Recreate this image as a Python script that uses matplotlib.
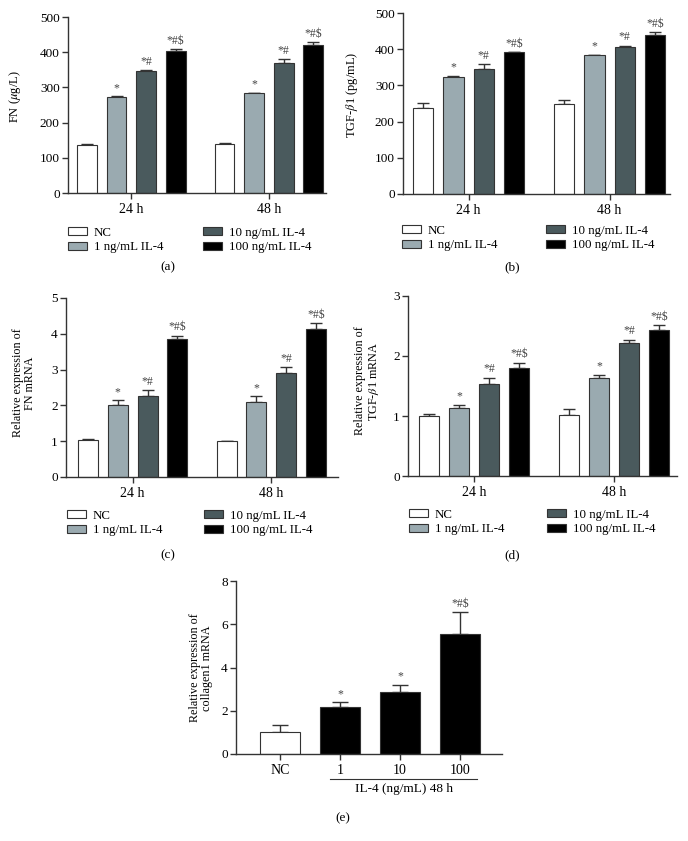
import numpy as np
import matplotlib.pyplot as plt
from matplotlib.patches import Patch

plt.rcParams['font.family'] = ['Liberation Serif', 'DejaVu Serif']
plt.rcParams['mathtext.fontset'] = 'stix'

''' Data read off the figure '''
times = ['24 h', '48 h']
conds = ['NC', '1 ng/mL IL-4', '10 ng/mL IL-4', '100 ng/mL IL-4']
sig_marks = ['', '*', '*#', '*#$']

# (a) FN protein, rows = time point, cols = condition
fn_prot_mean = [[137, 273, 346, 404], [140, 283, 370, 421]]
fn_prot_err = [[2, 2, 3, 4], [2, 2, 10, 9]]
# (b) TGF-b1 protein
tgf_prot_mean = [[237, 322, 345, 391], [248, 383, 405, 439]]
tgf_prot_err = [[15, 5, 13, 2], [13, 2, 5, 8]]
# (c) FN mRNA
fn_mrna_mean = [[1.02, 2.00, 2.27, 3.85], [1.00, 2.09, 2.91, 4.13]]
fn_mrna_err = [[0.03, 0.14, 0.15, 0.10], [0.01, 0.17, 0.15, 0.18]]
# (d) TGF-b1 mRNA
tgf_mrna_mean = [[1.00, 1.14, 1.54, 1.80], [1.01, 1.64, 2.22, 2.43]]
tgf_mrna_err = [[0.04, 0.05, 0.10, 0.09], [0.10, 0.04, 0.05, 0.08]]
# (e) collagen1 mRNA at 48 h
col_labels = ['NC', '1', '10', '100']
col_mean = [1.03, 2.18, 2.85, 5.57]
col_err = [0.32, 0.22, 0.35, 1.01]
col_marks = ['', '*', '*', '*#$']

colors = ['white', '#9aaab0', '#4a5a5d', 'black']
axcol = '#333333'
W, H = 688, 841


def px(x0, y0, x1, y1):
    #pixel box (left, top, right, bottom) -> figure fraction rect
    return [x0/W, 1-y1/H, (x1-x0)/W, (y1-y0)/H]


def style_ax(ax):
    for s in ['top', 'right']:
        ax.spines[s].set_visible(False)
    for s in ['left', 'bottom']:
        ax.spines[s].set_color(axcol)
        ax.spines[s].set_linewidth(1.0)
    ax.tick_params(axis='y', direction='out', length=4, width=1, color=axcol,
                   labelsize=9.5, pad=2)
    ax.tick_params(axis='x', direction='out', length=4, width=1, color=axcol,
                   labelsize=10, pad=3)


def bar_marks(ax, x, top, marks, dy):
    for _x, _t, _m in zip(x, top, marks):
        if _m:
            ax.text(_x, _t + dy, _m, ha='center', va='bottom', fontsize=8.5,
                    color='#444444')


def grouped(ax, mean, err, ylim, yticks, xlim, dy):
    G = 4.65
    for g in range(len(times)):
        x = g*G + np.arange(4) - 1.5
        ax.bar(x, mean[g], width=0.67, color=colors, edgecolor=axcol,
               linewidth=0.8, zorder=2)
        ax.errorbar(x, mean[g], yerr=[np.zeros(4), err[g]], fmt='none',
                    ecolor=axcol, elinewidth=1, capsize=4, capthick=1, zorder=1)
        bar_marks(ax, x, np.array(mean[g]) + np.array(err[g]), sig_marks, dy)
    ax.set_xticks([0, G])
    ax.set_xticklabels(times)
    ax.set_ylim(ylim)
    ax.set_yticks(yticks)
    ax.set_xlim(xlim)
    style_ax(ax)


def legend2(fig, xa, xb, y):
    hs = [Patch(facecolor=c, edgecolor=axcol, linewidth=0.8) for c in colors]
    kw = dict(frameon=False, fontsize=9.3, handlelength=1.45, handleheight=0.6,
              handletextpad=0.55, labelspacing=0.2, borderpad=0, borderaxespad=0,
              loc='center left', bbox_transform=fig.transFigure)
    fig.legend(hs[:2], conds[:2], bbox_to_anchor=(xa/W, 1-y/H), **kw)
    fig.legend(hs[2:], conds[2:], bbox_to_anchor=(xb/W, 1-y/H), **kw)


fig = plt.figure(figsize=(6.88, 8.41), dpi=100)

#(a)
ax = fig.add_axes(px(68, 17, 326, 193))
grouped(ax, fn_prot_mean, fn_prot_err, (0, 500), np.arange(0, 501, 100), (-2.14, 6.58), 6)
fig.text(15/W, 1-97/H, 'FN ($\\mu$g/L)', rotation=90, ha='center', va='center', fontsize=9)
legend2(fig, 68, 203, 240)
fig.text(168/W, 1-267/H, '(a)', ha='center', va='center', fontsize=9.5)

#(b)
ax = fig.add_axes(px(403, 13, 670, 194))
grouped(ax, tgf_prot_mean, tgf_prot_err, (0, 500), np.arange(0, 501, 100), (-2.16, 6.64), 6)
fig.text(352/W, 1-95/H, 'TGF-$\\beta$1 (pg/mL)', rotation=90, ha='center', va='center', fontsize=9)
legend2(fig, 402, 546, 238)
fig.text(512/W, 1-267/H, '(b)', ha='center', va='center', fontsize=9.5)

#(c)
ax = fig.add_axes(px(66, 298, 338, 477))
grouped(ax, fn_mrna_mean, fn_mrna_err, (0, 5), np.arange(0, 6, 1), (-2.24, 6.89), 0.06)
fig.text(24/W, 1-383/H, 'Relative expression of\nFN mRNA', rotation=90, ha='center',
         va='center', fontsize=8.7, linespacing=1.1)
legend2(fig, 67, 204, 523)
fig.text(168/W, 1-555/H, '(c)', ha='center', va='center', fontsize=9.5)

#(d)
ax = fig.add_axes(px(408, 296, 677, 476))
grouped(ax, tgf_mrna_mean, tgf_mrna_err, (0, 3), np.arange(0, 4, 1), (-2.2, 6.74), 0.04)
fig.text(368/W, 1-381/H, 'Relative expression of\nTGF-$\\beta$1 mRNA', rotation=90,
         ha='center', va='center', fontsize=8.7, linespacing=1.1)
legend2(fig, 409, 547, 522)
fig.text(512/W, 1-555/H, '(d)', ha='center', va='center', fontsize=9.5)

#(e)
ax = fig.add_axes(px(236, 581, 502, 754))
xe = np.arange(len(col_labels))
ax.bar(xe, col_mean, width=0.67, color=['white', 'black', 'black', 'black'],
       edgecolor=axcol, linewidth=0.8, zorder=2)
ax.errorbar(xe, col_mean, yerr=[np.zeros(4), col_err], fmt='none', ecolor=axcol,
            elinewidth=1, capsize=6, capthick=1, zorder=1)
bar_marks(ax, xe, np.array(col_mean) + np.array(col_err), col_marks, 0.1)
ax.set_xticks(xe)
ax.set_xticklabels(col_labels)
ax.set_ylim(0, 8)
ax.set_yticks(np.arange(0, 9, 2))
ax.set_xlim(-0.73, 3.7)
style_ax(ax)
ax.plot([0.83, 3.29], [-0.145, -0.145], color=axcol, lw=0.8, clip_on=False,
        transform=ax.get_xaxis_transform())
ax.text(2.07, -0.165, 'IL-4 (ng/mL) 48 h', ha='center', va='top', fontsize=9.5,
        transform=ax.get_xaxis_transform())
fig.text(201/W, 1-668/H, 'Relative expression of\ncollagen1 mRNA', rotation=90,
         ha='center', va='center', fontsize=8.7, linespacing=1.1)
fig.text(343/W, 1-818/H, '(e)', ha='center', va='center', fontsize=9.5)

plt.savefig('out.png', dpi=100)
